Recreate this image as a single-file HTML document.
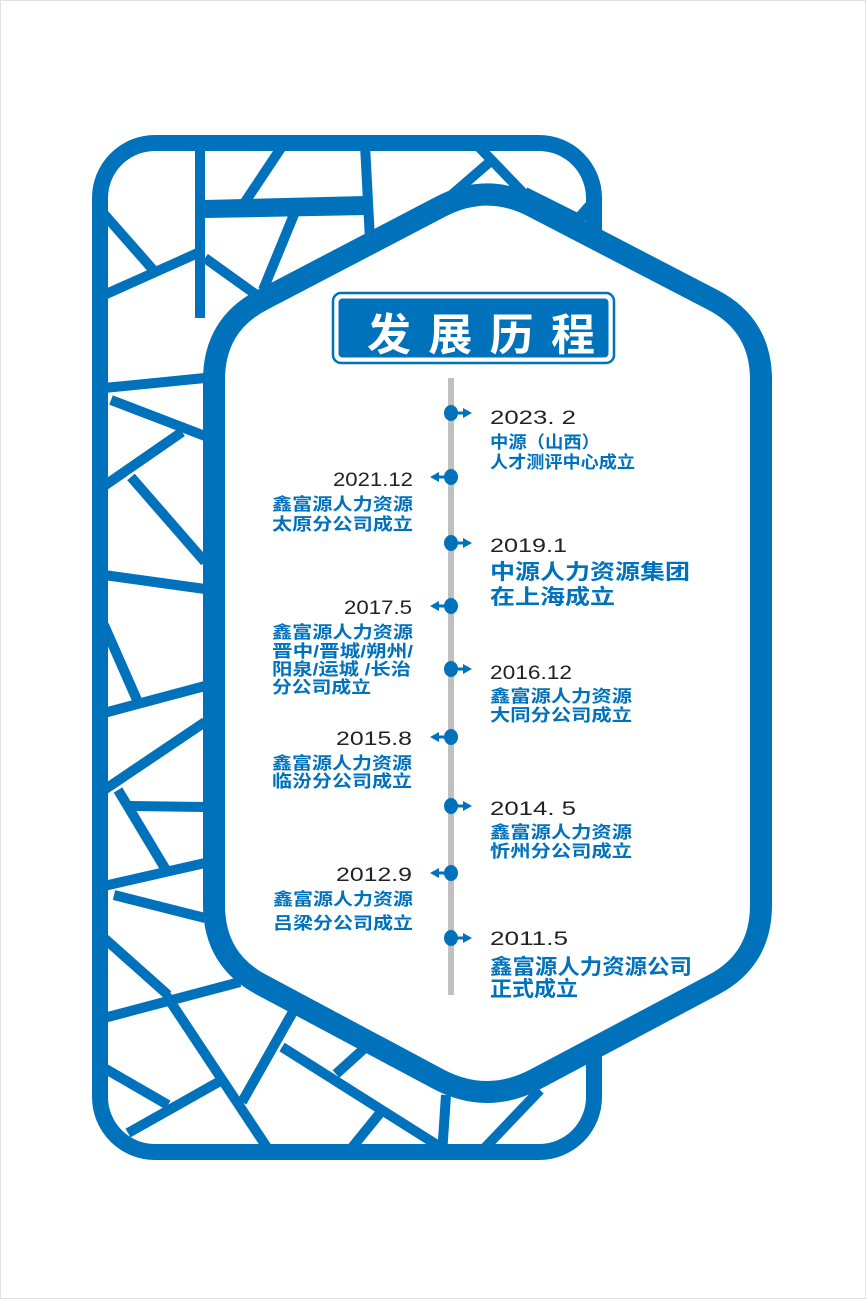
<!DOCTYPE html>
<html><head><meta charset="utf-8"><style>
html,body{margin:0;padding:0;background:#fff}
svg{display:block}
.cn{font-family:"Liberation Sans","Noto Sans CJK SC",sans-serif;font-weight:700;fill:#0072BC}
.dt{font-family:"Liberation Sans",sans-serif;fill:#222}
</style></head><body>
<svg width="866" height="1299" viewBox="0 0 866 1299" xmlns="http://www.w3.org/2000/svg">
<rect x="0.5" y="0.5" width="865" height="1298" fill="#fff" stroke="#e2e2e2"/>
<defs><clipPath id="cp"><rect x="100" y="143" width="494" height="1009" rx="52"/></clipPath></defs>
<rect x="100" y="143" width="494" height="1009" rx="55" fill="none" stroke="#0072BC" stroke-width="16"/>
<g clip-path="url(#cp)" stroke="#0072BC" stroke-width="10" fill="none" stroke-linecap="butt">
<line x1="200" y1="140" x2="200" y2="318"/>
<line x1="283" y1="145" x2="245" y2="202"/>
<line x1="205" y1="205" x2="365" y2="201"/>
<line x1="205" y1="213" x2="367" y2="210"/>
<line x1="295" y1="212" x2="263" y2="290"/>
<line x1="365" y1="145" x2="370" y2="240"/>
<line x1="477" y1="145" x2="530" y2="200"/>
<line x1="492" y1="160" x2="440" y2="205"/>
<line x1="525" y1="192" x2="585" y2="222"/>
<line x1="590" y1="205" x2="575" y2="222"/>
<line x1="104" y1="214" x2="155" y2="272"/>
<line x1="104" y1="295" x2="200" y2="252"/>
<line x1="205" y1="258" x2="258" y2="296"/>
<line x1="104" y1="388" x2="205" y2="378"/>
<line x1="111" y1="400" x2="205" y2="436"/>
<line x1="104" y1="486" x2="182" y2="432"/>
<line x1="131" y1="477" x2="205" y2="562"/>
<line x1="104" y1="575" x2="205" y2="589"/>
<line x1="104" y1="625" x2="137" y2="700"/>
<line x1="104" y1="713" x2="205" y2="686"/>
<line x1="104" y1="790" x2="205" y2="722"/>
<line x1="118" y1="790" x2="166" y2="870"/>
<line x1="130" y1="806" x2="205" y2="807"/>
<line x1="104" y1="886" x2="205" y2="863"/>
<line x1="114" y1="895" x2="205" y2="918"/>
<line x1="104" y1="938" x2="168" y2="995"/>
<line x1="104" y1="1018" x2="240" y2="982"/>
<line x1="166" y1="995" x2="272" y2="1155"/>
<line x1="104" y1="1068" x2="168" y2="1105"/>
<line x1="128" y1="1133" x2="222" y2="1080"/>
<line x1="242" y1="1102" x2="294" y2="1010"/>
<line x1="282" y1="1047" x2="445" y2="1150"/>
<line x1="336" y1="1074" x2="367" y2="1046"/>
<line x1="350" y1="1150" x2="380" y2="1113"/>
<line x1="446" y1="1095" x2="442" y2="1155"/>
<line x1="478" y1="1155" x2="540" y2="1090"/>
</g>
<path d="M214,380 Q214,325 262,300 L440,207 Q487,182 534,207 L713,300 Q761,325 761,380 L761,905 Q761,960 713,985 L534,1080 Q487,1104 440,1080 L262,985 Q214,960 214,905 Z" fill="#fff" stroke="#0072BC" stroke-width="22" stroke-linejoin="round"/>
<rect x="333" y="293" width="281" height="70" rx="8" fill="#fff" stroke="#0072BC" stroke-width="2.5"/>
<rect x="338.5" y="298.5" width="270" height="59" rx="4" fill="#0072BC"/>
<text x="367" y="350" font-size="44" textLength="228" lengthAdjust="spacing" style="font-family:'Liberation Sans','Noto Sans CJK SC',sans-serif;font-weight:700;fill:#fff">发展历程</text>
<rect x="448" y="378" width="6" height="617" fill="#c0c0c0"/>
<g fill="#0072BC" stroke="#0072BC">
<g id="r"><ellipse cx="451" cy="413" rx="7" ry="8" stroke="none"/><line x1="455" y1="413" x2="464" y2="413" stroke-width="3"/><path d="M463,408 L472,413 L463,418Z" stroke="none"/></g>
<use href="#r" y="130"/><use href="#r" y="256"/><use href="#r" y="393"/><use href="#r" y="525"/>
<g id="l"><ellipse cx="451" cy="477" rx="7" ry="8" stroke="none"/><line x1="447" y1="477" x2="438" y2="477" stroke-width="3"/><path d="M439,472 L430,477 L439,482Z" stroke="none"/></g>
<use href="#l" y="129"/><use href="#l" y="260"/><use href="#l" y="396"/>
</g>
<g class="dt" font-size="19">
<text x="490" y="424" textLength="86" lengthAdjust="spacingAndGlyphs">2023. 2</text>
<text x="333" y="486" textLength="80" lengthAdjust="spacingAndGlyphs">2021.12</text>
<text x="490" y="552" textLength="77" lengthAdjust="spacingAndGlyphs">2019.1</text>
<text x="344" y="614" textLength="68" lengthAdjust="spacingAndGlyphs">2017.5</text>
<text x="490" y="679" textLength="82" lengthAdjust="spacingAndGlyphs">2016.12</text>
<text x="336" y="745" textLength="76" lengthAdjust="spacingAndGlyphs">2015.8</text>
<text x="490" y="815" textLength="86" lengthAdjust="spacingAndGlyphs">2014. 5</text>
<text x="336" y="881" textLength="76" lengthAdjust="spacingAndGlyphs">2012.9</text>
<text x="490" y="945" textLength="78" lengthAdjust="spacingAndGlyphs">2011.5</text>
</g>
<g class="cn" font-size="17">
<text x="490" y="448" textLength="110" lengthAdjust="spacingAndGlyphs">中源（山西）</text>
<text x="490" y="468" textLength="145" lengthAdjust="spacingAndGlyphs">人才测评中心成立</text>
<text x="272" y="510" textLength="141" lengthAdjust="spacingAndGlyphs">鑫富源人力资源</text>
<text x="272" y="530" textLength="141" lengthAdjust="spacingAndGlyphs">太原分公司成立</text>
<text x="272" y="638" textLength="141" lengthAdjust="spacingAndGlyphs">鑫富源人力资源</text>
<text x="272" y="657" textLength="141" lengthAdjust="spacingAndGlyphs">晋中/晋城/朔州/</text>
<text x="272" y="675" textLength="139" lengthAdjust="spacingAndGlyphs">阳泉/运城 /长治</text>
<text x="272" y="693" textLength="99" lengthAdjust="spacingAndGlyphs">分公司成立</text>
<text x="490" y="702" textLength="142" lengthAdjust="spacingAndGlyphs">鑫富源人力资源</text>
<text x="490" y="721" textLength="142" lengthAdjust="spacingAndGlyphs">大同分公司成立</text>
<text x="272" y="769" textLength="140" lengthAdjust="spacingAndGlyphs">鑫富源人力资源</text>
<text x="272" y="787" textLength="140" lengthAdjust="spacingAndGlyphs">临汾分公司成立</text>
<text x="490" y="838" textLength="142" lengthAdjust="spacingAndGlyphs">鑫富源人力资源</text>
<text x="490" y="857" textLength="142" lengthAdjust="spacingAndGlyphs">忻州分公司成立</text>
<text x="273" y="905" textLength="140" lengthAdjust="spacingAndGlyphs">鑫富源人力资源</text>
<text x="273" y="929" textLength="140" lengthAdjust="spacingAndGlyphs">吕梁分公司成立</text>
</g>
<g class="cn" font-size="21">
<text x="490" y="579" textLength="200" lengthAdjust="spacingAndGlyphs">中源人力资源集团</text>
<text x="490" y="604" textLength="125" lengthAdjust="spacingAndGlyphs">在上海成立</text>
<text x="490" y="974" textLength="202" lengthAdjust="spacingAndGlyphs">鑫富源人力资源公司</text>
<text x="490" y="996" textLength="88" lengthAdjust="spacingAndGlyphs">正式成立</text>
</g>
</svg>
</body></html>
